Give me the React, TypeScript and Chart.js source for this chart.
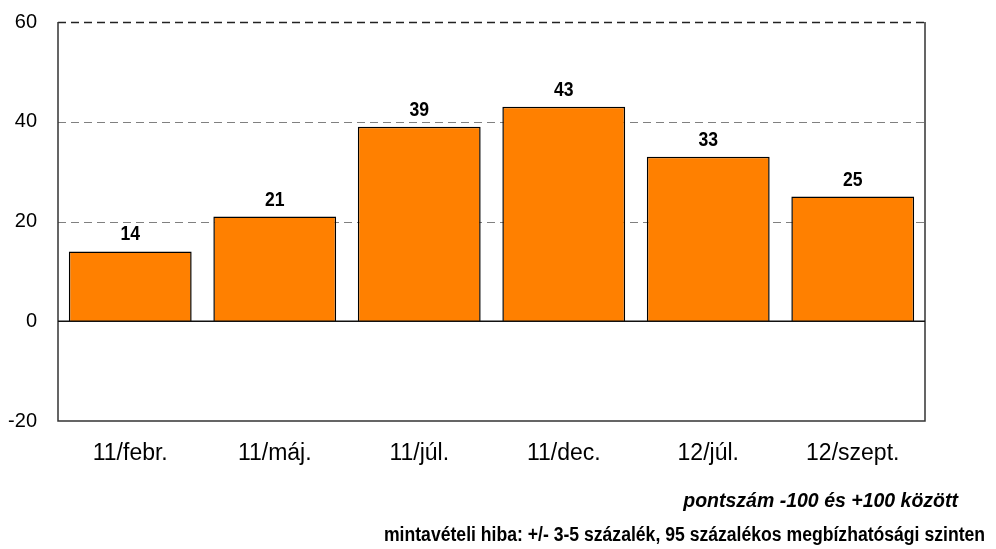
import React, { useEffect, useRef } from "react";
import { Chart, registerables } from "chart.js";

Chart.register(...registerables);

const categories = ["11/febr.", "11/máj.", "11/júl.", "11/dec.", "12/júl.", "12/szept."];
const values = [14, 21, 39, 43, 33, 25];
const yTicks = [-20, 0, 20, 40, 60];
const note1 = "pontszám -100 és +100 között";
const note2 = "mintavételi hiba: +/- 3-5 százalék, 95 százalékos megbízhatósági szinten";

const FONT = '"Liberation Sans", Arial, sans-serif';

const framePlugin = {
  id: "frame",
  beforeDatasetsDraw(chart: any) {
    const { ctx, chartArea } = chart;
    const y = chart.scales.y;
    ctx.save();
    ctx.setLineDash([8, 5]);
    for (const v of yTicks) {
      if (v === 0 || v === yTicks[0]) continue;
      const isTop = v === yTicks[yTicks.length - 1];
      const py = Math.round(y.getPixelForValue(v)) + 0.5;
      ctx.strokeStyle = isTop ? "#222" : "#808080";
      ctx.lineWidth = isTop ? 1.5 : 1;
      ctx.beginPath();
      ctx.moveTo(chartArea.left, py);
      ctx.lineTo(chartArea.right, py);
      ctx.stroke();
    }
    ctx.setLineDash([]);
    ctx.strokeStyle = "#333";
    ctx.lineWidth = 1.5;
    const top = y.getPixelForValue(yTicks[yTicks.length - 1]);
    const bottom = y.getPixelForValue(yTicks[0]);
    ctx.beginPath();
    ctx.moveTo(chartArea.left, top);
    ctx.lineTo(chartArea.left, bottom);
    ctx.lineTo(chartArea.right, bottom);
    ctx.lineTo(chartArea.right, top);
    ctx.stroke();
    ctx.restore();
  },
  afterDatasetsDraw(chart: any) {
    const { ctx, chartArea } = chart;
    const y = chart.scales.y;
    ctx.save();
    ctx.strokeStyle = "#111";
    ctx.lineWidth = 1.5;
    const py = y.getPixelForValue(0);
    ctx.beginPath();
    ctx.moveTo(chartArea.left, py);
    ctx.lineTo(chartArea.right, py);
    ctx.stroke();
    const meta = chart.getDatasetMeta(0);
    ctx.fillStyle = "#000";
    ctx.font = `bold 20px ${FONT}`;
    ctx.textAlign = "center";
    ctx.textBaseline = "alphabetic";
    meta.data.forEach((bar: any, i: number) => {
      ctx.save();
      ctx.translate(bar.x, bar.y - 11);
      ctx.scale(0.88, 1.05);
      ctx.fillText(String(values[i]), 0, 0);
      ctx.restore();
    });
    ctx.restore();
  },
};

export default function App() {
  const ref = useRef<HTMLCanvasElement | null>(null);
  useEffect(() => {
    if (!ref.current) return;
    const chart = new Chart(ref.current, {
      type: "bar",
      data: {
        labels: categories,
        datasets: [
          {
            data: values,
            backgroundColor: "#FF8000",
            borderColor: "#000",
            borderWidth: 1.5,
            barPercentage: 0.85,
            categoryPercentage: 1,
          },
        ],
      },
      options: {
        animation: false,
        responsive: false,
        layout: { padding: { left: 0, top: 22, right: 71, bottom: 0 } },
        plugins: { legend: { display: false }, tooltip: { enabled: false } },
        scales: {
          x: {
            grid: { display: false, drawTicks: false },
            border: { display: false },
            ticks: { color: "#000", font: { family: FONT, size: 23 }, padding: 19, maxRotation: 0 },
            afterFit(scale: any) {
              scale.height = 128;
              scale.paddingLeft = 0;
              scale.paddingRight = 0;
            },
          },
          y: {
            min: -20,
            max: 60,
            grid: { display: false, drawTicks: false },
            border: { display: false },
            ticks: {
              stepSize: 20,
              color: "#000",
              font: { family: FONT, size: 20 },
              padding: 21,
            },
            afterFit(scale: any) {
              scale.width = 58;
              scale.paddingTop = 0;
              scale.paddingBottom = 0;
            },
          },
        },
      },
      plugins: [framePlugin],
    });
    return () => chart.destroy();
  }, []);

  return (
    <div style={{ position: "fixed", left: 0, top: 0, width: 996, height: 549, background: "#fff" }}>
      <canvas ref={ref} width={996} height={549} style={{ display: "block" }} />
      <div
        style={{
          position: "absolute",
          right: 38,
          top: 486,
          lineHeight: "28px",
          fontFamily: FONT,
          fontWeight: "bold",
          fontStyle: "italic",
          fontSize: 19.5,
          color: "#000",
          whiteSpace: "nowrap",
        }}
      >
        {note1}
      </div>
      <div
        style={{
          position: "absolute",
          right: 11,
          top: 520,
          lineHeight: "28px",
          fontFamily: FONT,
          fontWeight: "bold",
          fontSize: 20,
          color: "#000",
          whiteSpace: "nowrap",
          transform: "scaleX(0.88)",
          transformOrigin: "right center",
        }}
      >
        {note2}
      </div>
    </div>
  );
}
